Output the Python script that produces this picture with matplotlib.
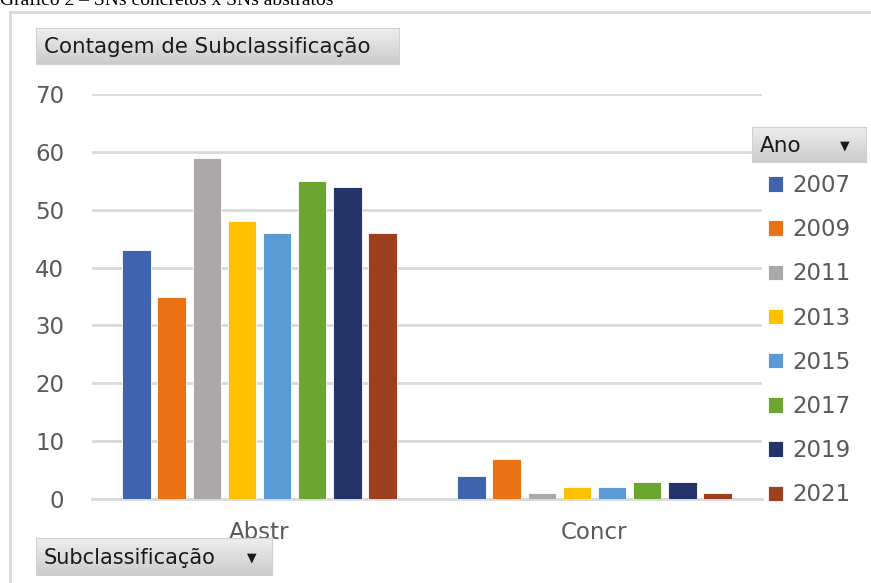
import matplotlib
matplotlib.use("Agg")
import matplotlib.pyplot as plt
import numpy as np
from matplotlib.patches import Rectangle
from matplotlib.colors import LinearSegmentedColormap

categories = ["Abstr", "Concr"]
years = ["2007", "2009", "2011", "2013", "2015", "2017", "2019", "2021"]
values = {
    "2007": [43, 4],
    "2009": [35, 7],
    "2011": [59, 1],
    "2013": [48, 2],
    "2015": [46, 2],
    "2017": [55, 3],
    "2019": [54, 3],
    "2021": [46, 1],
}
colors = ["#3E64AF", "#E97214", "#ABA8A7", "#FDC100", "#5B9BD5", "#6CA630", "#233568", "#9C3F1E"]
yticks = [0, 10, 20, 30, 40, 50, 60, 70]

W, H = 871, 583
fig = plt.figure(figsize=(W / 100, H / 100), dpi=100)
fig.patch.set_facecolor("white")

def fx(px):
    return px / W

def fy(py):
    return 1 - py / H

# outer chart frame
fig.patches.append(Rectangle((fx(10), fy(600)), fx(900), 600 / H - 12 / H,
                             transform=fig.transFigure, fill=False,
                             edgecolor="#D9D9D9", lw=2, zorder=0))

# caption (cut off at top, as in the source)
fig.text(fx(0), fy(5), "Gráfico 2 – SNs concretos x SNs abstratos",
         family="Liberation Serif", fontsize=14, color="black",
         ha="left", va="baseline")

ax = fig.add_axes([fx(92), fy(499), fx(762) - fx(92), (499 - 94) / H])
x = np.arange(len(categories))
step = 0.1048
width = 0.085
handles = []
for i, (yr, c) in enumerate(zip(years, colors)):
    off = (i - 3.5) * step
    b = ax.bar(x + off, values[yr], width=width, color=c, edgecolor="white",
               linewidth=0.6, label=yr, zorder=3)
    handles.append(b)

ax.set_xlim(-0.5, 1.5)
ax.set_ylim(0, 70)
ax.set_yticks(yticks)
ax.set_yticklabels([str(t) for t in yticks])
ax.set_xticks(x)
ax.set_xticklabels(categories)
ax.yaxis.grid(True, color="#D9D9D9", lw=2, zorder=0)
ax.set_axisbelow(True)
for s in ["top", "right", "left"]:
    ax.spines[s].set_visible(False)
ax.spines["bottom"].set_color("#D9D9D9")
ax.spines["bottom"].set_linewidth(2)
ax.tick_params(axis="y", length=0, pad=20, labelsize=16.5, labelcolor="#595959")
ax.tick_params(axis="x", length=0, pad=16, labelsize=16.5, labelcolor="#595959")
ax.patch.set_alpha(0)

cmap = LinearSegmentedColormap.from_list("g", ["#EEEEEE", "#CCCCCC"])

def button(x0, y0, x1, y1, label, arrow=False, arrow_x=None, fs=15.4):
    bax = fig.add_axes([fx(x0), fy(y1), fx(x1) - fx(x0), (y1 - y0) / H])
    grad = np.linspace(0, 1, 100).reshape(-1, 1)
    bax.imshow(grad, aspect="auto", cmap=cmap, extent=[0, 1, 0, 1], origin="upper")
    bax.set_xticks([])
    bax.set_yticks([])
    for s in bax.spines.values():
        s.set_color("#D0D0D0")
        s.set_linewidth(0.8)
    fig.text(fx(x0 + 8), fy((y0 + y1) / 2 + 1), label, fontsize=fs,
             color="#1A1A1A", ha="left", va="center")
    if arrow:
        fig.text(fx(arrow_x), fy((y0 + y1) / 2 + 1), "▼", fontsize=9,
                 color="#1A1A1A", ha="center", va="center")

button(36, 28, 399, 64, "Contagem de Subclassificação")
button(36, 538, 272, 575, "Subclassificação", arrow=True, arrow_x=252, fs=15)
button(752, 127, 866, 162, "Ano", arrow=True, arrow_x=845, fs=15.5)

leg = fig.legend(handles=handles, labels=years, loc="upper left",
                 bbox_to_anchor=(fx(768), fy(174)), frameon=False,
                 fontsize=16.5, labelcolor="#595959", handlelength=0.66,
                 handleheight=0.66, handletextpad=0.42, labelspacing=0.925,
                 borderpad=0, borderaxespad=0)

fig.savefig("out.png", dpi=100)
